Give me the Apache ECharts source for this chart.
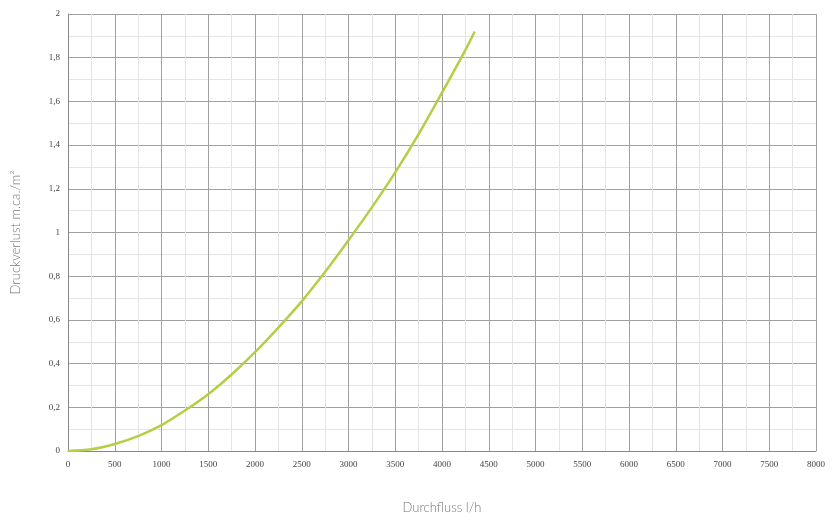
<!DOCTYPE html>
<html>
<head>
<meta charset="utf-8">
<script src="https://cdn.jsdelivr.net/npm/echarts@6/dist/echarts.min.js"></script>
<style>html,body{margin:0;padding:0;background:#fff;}#c{width:835px;height:528px;}</style>
</head>
<body>
<div id="c"></div>
<script>
const flow = [0, 250, 500, 750, 1000, 1250, 1500, 1750, 2000, 2250, 2500, 2750, 3000, 3250, 3500, 3750, 4000, 4250, 4350];
const loss = [0, 0.008, 0.032, 0.068, 0.118, 0.185, 0.26, 0.35, 0.452, 0.565, 0.685, 0.82, 0.965, 1.115, 1.275, 1.45, 1.64, 1.835, 1.92];
const xTitle = 'Durchfluss l/h';
const yTitle = 'Druckverlust m.ca./m²';

const chart = echarts.init(document.getElementById('c'));
chart.setOption({
  animation: false,
  grid: {left: 68, top: 14, width: 748, height: 437},
  xAxis: {
    type: 'value', min: 0, max: 8000, interval: 500,
    name: xTitle, nameLocation: 'middle', nameGap: 50,
    nameTextStyle: {fontFamily: 'Lato', fontWeight: 300, fontSize: 13, color: '#777'},
    axisLine: {show: true, lineStyle: {color: '#888', width: 1}},
    axisTick: {show: false},
    axisLabel: {fontFamily: 'Liberation Serif', fontSize: 9, color: '#444', margin: 9,
      formatter: v => String(v)},
    splitLine: {show: true, lineStyle: {color: '#a0a0a0', width: 1}},
    minorTick: {show: false, splitNumber: 2},
    minorSplitLine: {show: true, lineStyle: {color: '#e4e4e4', width: 1}}
  },
  yAxis: {
    type: 'value', min: 0, max: 2, interval: 0.2,
    name: yTitle, nameLocation: 'middle', nameGap: 46,
    nameTextStyle: {fontFamily: 'Lato', fontWeight: 300, fontSize: 13, color: '#777'},
    axisLine: {show: true, lineStyle: {color: '#888', width: 1}},
    axisTick: {show: false},
    axisLabel: {fontFamily: 'Liberation Serif', fontSize: 9, color: '#444', margin: 8,
      formatter: v => String(Math.round(v * 10) / 10).replace('.', ',')},
    splitLine: {show: true, lineStyle: {color: '#a0a0a0', width: 1}},
    minorTick: {show: false, splitNumber: 2},
    minorSplitLine: {show: true, lineStyle: {color: '#e4e4e4', width: 1}}
  },
  series: [{
    type: 'line',
    data: flow.map((f, i) => [f, loss[i]]),
    smooth: 0.3,
    showSymbol: false,
    lineStyle: {color: '#b3cf45', width: 2.5}
  }]
});
</script>
</body>
</html>
